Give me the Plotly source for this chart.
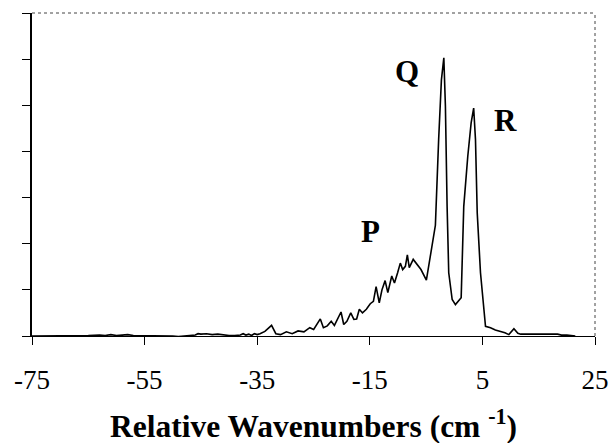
import plotly.graph_objects as go

# Relative wavenumber (cm^-1) and intensity (arbitrary units)
wavenumber = [
    -75, -73, -71, -69, -67, -65, -63, -62, -61, -60, -59, -58, -57, -55, -53, -51,
    -50, -49, -48, -47, -46, -45.5, -45, -44, -43, -42, -41, -40, -39, -38, -37.5,
    -37, -36.5, -36, -35.5, -35, -34.5, -33.63, -32.45, -31.69, -30.86, -30.3,
    -29.82, -28.78, -27.74, -26.70, -25.66, -24.97, -23.79, -23.24, -22.55, -21.85,
    -21.29, -20.11, -19.63, -19.07, -18.38, -17.83, -17.34, -16.86, -16.30, -15.61,
    -14.92, -14.36, -13.88, -13.32, -12.84, -12.28, -11.80, -11.10, -10.62, -10.06,
    -9.58, -9.16, -8.68, -8.33, -7.99, -7.29, -6.74, -5.91, -4.95, -4.53, -3.93,
    -3.35, -2.77, -2.28, -1.85, -1.57, -1.27, -0.98, -0.37, 0.21, 1.23, 1.69, 2.4,
    3.0, 3.45, 3.77, 4.08, 4.66, 5.55, 6.44, 7.3, 8.2, 9.0, 9.7, 10.6, 11.3, 11.8,
    13.0, 14.9, 16.0, 18.35, 19.05, 20.0, 21.5,
]
intensity = [
    0, 0, 0.01, 0, 0.01, 0.01, 0.02, 0.01, 0.03, 0.01, 0.02, 0.03, 0.01, 0.01, 0, 0.01,
    0.0, -0.01, 0, 0, 0.02, 0.05, 0.04, 0.05, 0.03, 0.04, 0.02, 0.01, 0.01, 0.02, 0.05,
    0.02, 0.04, 0.01, 0.05, 0.03, 0.05, 0.10, 0.23, 0.05, 0.03, 0.07,
    0.09, 0.05, 0.11, 0.09, 0.18, 0.14, 0.37, 0.18, 0.22, 0.32,
    0.23, 0.52, 0.25, 0.32, 0.50, 0.36, 0.37, 0.58, 0.50, 0.58,
    0.70, 0.75, 1.07, 0.72, 1.00, 1.20, 0.94, 1.30, 1.15, 1.37,
    1.58, 1.44, 1.51, 1.76, 1.48, 1.66, 1.58, 1.44, 1.21, 1.51, 1.90,
    2.40, 4.26, 5.55, 6.03, 4.98, 2.81, 1.37, 0.79, 0.68, 0.83, 2.81, 3.89,
    4.62, 4.94, 4.26, 2.67, 1.37, 0.21, 0.18, 0.13, 0.10, 0.07, 0.03, 0.16, 0.06, 0.04,
    0.04, 0.05, 0.04, 0.04, 0.02, 0.02, 0.0,
]

x_ticks = [-75, -55, -35, -15, 5, 25]
y_ticks = [0, 1, 2, 3, 4, 5, 6, 7]

branch_labels = ["P", "Q", "R"]
branch_x = [-14.9, -8.35, 9.05]
branch_y = [2.27, 5.73, 4.68]

SERIF = "Liberation Serif, Times New Roman, serif"

fig = go.Figure()
fig.add_trace(go.Scatter(
    x=wavenumber, y=intensity, mode="lines",
    line=dict(color="black", width=1.6),
    showlegend=False, hoverinfo="skip",
))

for lab, bx, by in zip(branch_labels, branch_x, branch_y):
    fig.add_annotation(
        x=bx, y=by, xref="x", yref="y", text=f"<b>{lab}</b>", showarrow=False,
        font=dict(family=SERIF, size=31, color="black"),
        xanchor="center", yanchor="middle",
    )

fig.add_annotation(
    x=0.5, y=-0.272, xref="paper", yref="paper",
    text="<b>Relative Wavenumbers (cm <sup>-1</sup>)</b>", showarrow=False,
    font=dict(family=SERIF, size=31.5, color="black"),
    xanchor="center", yanchor="middle",
)

# dotted top and right frame
fig.add_shape(type="line", xref="paper", yref="paper", x0=0, x1=1, y0=1, y1=1,
              line=dict(color="#444444", width=1, dash="dot"))
fig.add_shape(type="line", xref="paper", yref="paper", x0=1, x1=1, y0=0, y1=1,
              line=dict(color="#444444", width=1, dash="dot"))

fig.update_layout(
    width=610, height=443,
    margin=dict(l=32, r=15, t=13, b=107, autoexpand=False),
    paper_bgcolor="white", plot_bgcolor="white",
    xaxis=dict(
        range=[-75, 25], tickvals=x_ticks, ticktext=[str(t) for t in x_ticks],
        ticks="outside", ticklen=8, tickwidth=1, tickcolor="black",
        showline=True, linecolor="black", linewidth=1,
        showgrid=False, zeroline=False, automargin=False,
        tickfont=dict(family=SERIF, size=27, color="black"),
        ticklabelstandoff=12,
    ),
    yaxis=dict(
        range=[0, 7], tickvals=y_ticks,
        ticks="outside", ticklen=8, tickwidth=1, tickcolor="black",
        showline=True, linecolor="black", linewidth=1.5,
        showgrid=False, zeroline=False, showticklabels=False, automargin=False,
    ),
)

# remove the browser's default 8px page margin so the 610x443 figure fills the window
fig.write_html(
    "out.html",
    config={"displayModeBar": False},
    post_script="document.body.style.margin='0';document.body.style.overflow='hidden';",
)
